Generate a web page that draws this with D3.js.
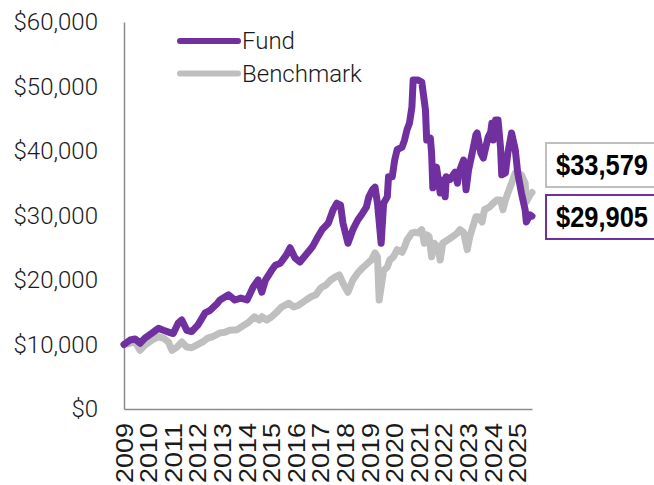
<!DOCTYPE html>
<html>
<head>
<meta charset="utf-8">
<script src="https://cdn.jsdelivr.net/npm/d3@7"></script>
<style>
	body { margin: 0; background: #fff; }
	svg { display: block; }
</style>
</head>
<body>
<div id="chart"></div>
<script>
// growth of $10,000 (x = decimal year)
var fundDates = [2009.0, 2009.25, 2009.45, 2009.65, 2009.85, 2010.15, 2010.4, 2010.6, 2010.9, 2011.0,
	2011.2, 2011.35, 2011.55, 2011.75, 2012.0, 2012.3, 2012.5, 2012.8, 2012.9, 2013.25,
	2013.5, 2013.75, 2014.0, 2014.25, 2014.45, 2014.6, 2014.75, 2015.0, 2015.15, 2015.35,
	2015.6, 2015.75, 2015.95, 2016.15, 2016.45, 2016.65, 2016.85, 2017.05, 2017.3, 2017.5,
	2017.65, 2017.8, 2017.9, 2018.1, 2018.3, 2018.5, 2018.7, 2018.85, 2018.95, 2019.1,
	2019.2, 2019.3, 2019.45, 2019.55, 2019.7, 2019.75, 2019.9, 2020.0, 2020.1, 2020.3,
	2020.4, 2020.5, 2020.6, 2020.7, 2020.75, 2020.95, 2021.1, 2021.25, 2021.3, 2021.45,
	2021.5, 2021.55, 2021.7, 2021.85, 2021.95, 2022.05, 2022.1, 2022.25, 2022.45, 2022.55,
	2022.6, 2022.75, 2022.8, 2022.9, 2023.0, 2023.15, 2023.3, 2023.35, 2023.5, 2023.6,
	2023.8, 2023.9, 2023.95, 2024.0, 2024.1, 2024.2, 2024.3, 2024.35, 2024.5, 2024.6,
	2024.75, 2024.9, 2025.0, 2025.15, 2025.3, 2025.35, 2025.5, 2025.58];
var fundValues = [10000, 10700, 10850, 10200, 11000, 11800, 12500, 12200, 11800, 11700,
	13300, 13800, 12200, 12000, 13000, 14900, 15300, 16400, 16900, 17700,
	16900, 17200, 16900, 18900, 20000, 18100, 20000, 21500, 22300, 22600,
	23900, 25000, 23400, 22800, 24200, 25100, 26500, 27800, 28800, 30900,
	31900, 31600, 28800, 25700, 27800, 29300, 30400, 31300, 32900, 34000,
	34400, 31900, 25700, 31900, 32900, 36000, 36000, 38600, 40200, 40600,
	41700, 43300, 44300, 46800, 51000, 51000, 50700, 46400, 41700, 42000,
	39700, 34300, 37500, 33500, 35500, 32900, 36000, 35600, 36700, 35000,
	36600, 38100, 38600, 34000, 37000, 39700, 42500, 42800, 39700, 38900,
	42200, 42900, 44300, 41700, 44800, 44800, 40600, 36300, 36600, 39700,
	42800, 40200, 36600, 33500, 30900, 29000, 30100, 29905];

var benchDates = [2009.0, 2009.25, 2009.45, 2009.65, 2009.85, 2010.15, 2010.4, 2010.6, 2010.8, 2010.95,
	2011.15, 2011.35, 2011.55, 2011.75, 2011.95, 2012.2, 2012.4, 2012.6, 2012.9, 2013.1,
	2013.3, 2013.6, 2013.8, 2014.05, 2014.3, 2014.5, 2014.6, 2014.8, 2015.0, 2015.2,
	2015.4, 2015.7, 2015.9, 2016.1, 2016.4, 2016.6, 2016.8, 2017.0, 2017.2, 2017.4,
	2017.6, 2017.75, 2017.9, 2018.1, 2018.3, 2018.5, 2018.7, 2018.9, 2019.05, 2019.2,
	2019.3, 2019.37, 2019.55, 2019.7, 2019.8, 2019.95, 2020.1, 2020.3, 2020.4, 2020.5,
	2020.7, 2020.85, 2020.95, 2021.1, 2021.2, 2021.3, 2021.4, 2021.5, 2021.6, 2021.75,
	2021.85, 2021.95, 2022.15, 2022.35, 2022.55, 2022.65, 2022.8, 2022.95, 2023.05, 2023.3,
	2023.4, 2023.55, 2023.65, 2023.85, 2024.0, 2024.15, 2024.3, 2024.4, 2024.5, 2024.6,
	2024.75, 2024.9, 2025.0, 2025.15, 2025.3, 2025.35, 2025.5, 2025.58];
var benchValues = [10000, 10200, 10400, 9100, 9900, 10700, 11200, 11000, 10400, 9100,
	9600, 10400, 9600, 9500, 9900, 10400, 11000, 11200, 11800, 11900,
	12200, 12300, 12800, 13400, 14300, 13800, 14300, 13800, 14300, 15000,
	15800, 16400, 15800, 16100, 16900, 17400, 17700, 18800, 19200, 20000,
	20500, 20800, 19500, 18100, 20000, 21100, 21900, 22600, 23100, 24200,
	23600, 16900, 21500, 22000, 23100, 23600, 24700, 24300, 25100, 26200,
	27300, 27400, 27300, 27800, 25700, 27000, 26700, 23600, 25700, 25100,
	23100, 25700, 26200, 26700, 27300, 27800, 27400, 24700, 26700, 29800,
	29800, 29000, 30900, 31300, 31900, 32400, 32400, 30900, 32400, 33500,
	35000, 36600, 36600, 36300, 35000, 32100, 33200, 33579];

var yearTicks = d3.range(2009, 2026);
var valueTicks = [0, 10000, 20000, 30000, 40000, 50000, 60000];
var seriesNames = ['Fund', 'Benchmark'];
var seriesColors = ['#7030A0', '#BFBFBF'];

var width = 654, height = 485;
var plotLeft = 124, plotRight = 532, plotTop = 22, plotBottom = 409;

var svg = d3.select('#chart').append('svg')
	.attr('width', width)
	.attr('height', height);

var x = d3.scaleLinear().domain([2009, 2025.58]).range([plotLeft, plotRight]);
var y = d3.scaleLinear().domain([0, 60000]).range([plotBottom, plotTop]);
var money = d3.format('$,');

// y axis
var yAxis = svg.append('g')
	.attr('transform', 'translate(' + plotLeft + ',0)')
	.call(d3.axisLeft(y).tickValues(valueTicks).tickSize(0).tickPadding(26).tickFormat(money));
yAxis.select('.domain').attr('stroke', '#8c8c8c').attr('stroke-width', 1.5);
yAxis.selectAll('text')
	.attr('font-family', 'Roboto, sans-serif')
	.attr('font-weight', 300)
	.attr('font-size', 24)
	.attr('fill', '#1a1a1a');

// x axis
var xAxis = svg.append('g')
	.attr('transform', 'translate(0,' + plotBottom + ')')
	.call(d3.axisBottom(x).tickValues(yearTicks).tickSize(0).tickFormat(d3.format('d')));
xAxis.select('.domain').attr('stroke', '#8c8c8c').attr('stroke-width', 1.5);
xAxis.selectAll('text')
	.attr('font-family', '"Liberation Sans", Arial, sans-serif')
	.attr('font-size', 23)
	.attr('fill', '#1a1a1a')
	.attr('text-anchor', 'start')
	.attr('textLength', 60)
	.attr('lengthAdjust', 'spacingAndGlyphs')
	.attr('x', 0)
	.attr('y', 0)
	.attr('dy', '0.35em')
	.attr('transform', 'translate(0,74) rotate(-90)');

var line = d3.line()
	.x(function(d) { return x(d[0]); })
	.y(function(d) { return y(d[1]); });

var bench = d3.zip(benchDates, benchValues);
var fund = d3.zip(fundDates, fundValues);

svg.append('path')
	.datum(bench)
	.attr('d', line)
	.attr('fill', 'none')
	.attr('stroke', seriesColors[1])
	.attr('stroke-width', 7)
	.attr('stroke-linejoin', 'round')
	.attr('stroke-linecap', 'round');

svg.append('path')
	.datum(fund)
	.attr('d', line)
	.attr('fill', 'none')
	.attr('stroke', seriesColors[0])
	.attr('stroke-width', 7)
	.attr('stroke-linejoin', 'round')
	.attr('stroke-linecap', 'round');

// legend
var legend = svg.selectAll('.legend')
	.data(seriesNames)
	.enter().append('g')
	.attr('class', 'legend')
	.attr('transform', function(d, i) { return 'translate(180,' + (41 + i * 32.5) + ')'; });

legend.append('line')
	.attr('x1', 0)
	.attr('x2', 58)
	.attr('stroke', function(d, i) { return seriesColors[i]; })
	.attr('stroke-width', 6)
	.attr('stroke-linecap', 'round');

legend.append('text')
	.attr('x', 62)
	.attr('dy', '0.35em')
	.attr('font-family', 'Roboto, sans-serif')
	.attr('font-weight', 300)
	.attr('font-size', 24)
	.attr('fill', '#1a1a1a')
	.text(function(d) { return d; });

// end value boxes (they run past the right edge, as in the source)
var ends = [
	{value: benchValues[benchValues.length - 1], color: seriesColors[1], top: 143},
	{value: fundValues[fundValues.length - 1], color: seriesColors[0], top: 195}
];

var boxes = svg.selectAll('.endbox')
	.data(ends)
	.enter().append('g')
	.attr('class', 'endbox')
	.attr('transform', function(d) { return 'translate(546,' + d.top + ')'; });

boxes.append('rect')
	.attr('width', 120)
	.attr('height', 44)
	.attr('fill', '#fff')
	.attr('stroke', function(d) { return d.color; })
	.attr('stroke-width', 2);

boxes.append('text')
	.attr('x', 10)
	.attr('y', 22)
	.attr('dy', '0.36em')
	.attr('font-family', '"Liberation Sans Narrow", "Liberation Sans", Arial, sans-serif')
	.attr('font-weight', 'bold')
	.attr('font-size', 29)
	.attr('fill', '#000')
	.attr('textLength', 92)
	.attr('lengthAdjust', 'spacingAndGlyphs')
	.text(function(d) { return money(d.value); });
</script>
</body>
</html>
